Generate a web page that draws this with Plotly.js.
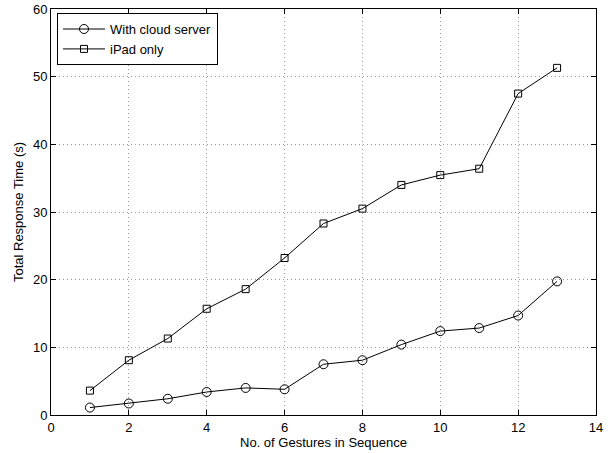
<!DOCTYPE html>
<html>
<head>
<meta charset="utf-8">
<script src="https://cdn.plot.ly/plotly-3.0.1.min.js"></script>
<style>html,body{margin:0;padding:0;background:#fff;}#chart{width:613px;height:453px;}</style>
</head>
<body>
<div id="chart"></div>
<script>
const gestures = [1,2,3,4,5,6,7,8,9,10,11,12,13];
const cloudServer = [1.1,1.7,2.4,3.4,4.0,3.8,7.5,8.1,10.4,12.4,12.85,14.7,19.75];
const ipadOnly = [3.6,8.1,11.3,15.7,18.6,23.2,28.3,30.5,34.0,35.45,36.4,47.5,51.3];
const seriesNames = ["With cloud server","iPad only"];
const xTicks = [0,2,4,6,8,10,12,14];
const yTicks = [0,10,20,30,40,50,60];

const font = {family: "Liberation Sans, Arial, sans-serif", size: 13, color: "#000"};

const traces = [
  {x: gestures, y: cloudServer, name: seriesNames[0], mode: "lines+markers",
   line: {color: "#000", width: 1},
   marker: {symbol: "circle-open", size: 9, color: "#000", line: {width: 1, color: "#000"}}},
  {x: gestures, y: ipadOnly, name: seriesNames[1], mode: "lines+markers",
   line: {color: "#000", width: 1},
   marker: {symbol: "square-open", size: 7, color: "#000", line: {width: 1, color: "#000"}}}
];

const axisCommon = {
  showline: true, linecolor: "#000", linewidth: 1, mirror: "allticks",
  ticks: "inside", ticklen: 5, tickcolor: "#000", tickwidth: 1,
  showgrid: true, gridcolor: "#999", griddash: "1px,3px", gridwidth: 1,
  zeroline: false, tickfont: font
};

const layout = {
  width: 613, height: 453,
  margin: {l: 51, r: 17, t: 9, b: 38},
  paper_bgcolor: "#fff", plot_bgcolor: "#fff",
  font: font,
  showlegend: true,
  legend: {x: 0.011, y: 0.99, xanchor: "left", yanchor: "top",
           bordercolor: "#000", borderwidth: 1, bgcolor: "#fff",
           font: font, tracegroupgap: 0, itemwidth: 42},
  xaxis: Object.assign({}, axisCommon, {
    range: [0, 14], tickvals: xTicks, ticktext: xTicks.map(String),
    title: {text: "No. of Gestures in Sequence", font: font, standoff: 2}
  }),
  yaxis: Object.assign({}, axisCommon, {
    range: [0, 60], tickvals: yTicks, ticktext: yTicks.map(String),
    title: {text: "Total Response Time (s)", font: font, standoff: 6}
  })
};

Plotly.newPlot("chart", traces, layout, {displayModeBar: false, staticPlot: true});
</script>
</body>
</html>
